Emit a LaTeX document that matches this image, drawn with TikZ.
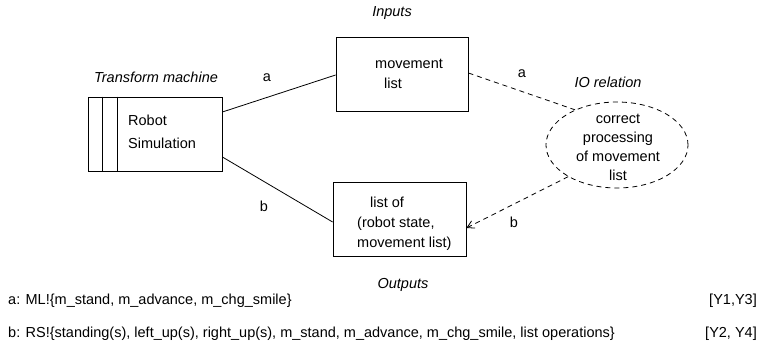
\documentclass[tikz,border=0pt]{standalone}
\usepackage{fontspec}
\setmainfont{Liberation Sans}
\usetikzlibrary{arrows.meta,shapes.geometric}
\begin{document}
\begin{tikzpicture}[x=1pt,y=-1pt,
  every node/.style={font=\fontsize{14.5}{20}\selectfont, inner sep=0pt},
  boxnode/.style={draw, line width=0.8pt, rectangle},
  conn/.style={line width=0.8pt},
  dconn/.style={line width=0.8pt, dash pattern=on 5pt off 4pt},
  ttl/.style={font=\fontsize{14.5}{20}\selectfont\itshape}]
\useasboundingbox (0,0) rectangle (769,347);
% transform machine
\node[boxnode, minimum width=134pt, minimum height=74pt] (tm) at (155,134) {};
\draw[conn] ([xshift=15pt]tm.north west) -- ([xshift=15pt]tm.south west);
\draw[conn] ([xshift=30pt]tm.north west) -- ([xshift=30pt]tm.south west);
\node[anchor=west, align=left, font=\fontsize{14.5}{23}\selectfont] (tmtxt) at (128,132) {Robot\\Simulation};
\node[ttl] (tmttl) at (156,77) {Transform machine};
% inputs
\node[boxnode, minimum width=132pt, minimum height=74pt] (in) at (402,74) {};
\node[anchor=west, align=left] (intxt) at (375,74) {movement\\\hspace*{9pt}list};
\node[ttl] (inttl) at (392,13) {Inputs};
% outputs
\node[boxnode, minimum width=133pt, minimum height=74pt] (out) at (399.5,219) {};
\node[anchor=west, align=left] (outtxt) at (357,224) {\hspace*{13pt}list of\\(robot state,\\movement list)};
\node[ttl] (outttl) at (403,285) {Outputs};
% IO relation
\node[ellipse, draw, dash pattern=on 5pt off 4pt, line width=0.8pt, minimum width=142pt, minimum height=86pt] (io) at (617,145) {};
\node[align=center, font=\fontsize{14.5}{19}\selectfont] (iotxt) at (618,147) {correct\\processing\\of movement\\list};
\node[ttl] (iottl) at (608,82) {IO relation};
% connectors
\draw[conn] ([yshift=22pt]tm.east) -- ([yshift=-1pt]in.west);
\draw[conn] ([yshift=-23pt]tm.east) -- ([yshift=-3pt]out.west);
\draw[dconn] ([yshift=1pt]in.east) -- (io.140);
\draw[dconn, -{Straight Barb[length=7pt,width=8pt]}] (io.213) -- ([yshift=-9pt]out.east);
\node (la1) at (267,78) {a};
\node (lb1) at (264,206) {b};
\node (la2) at (522,74) {a};
\node (lb2) at (514,222) {b};
% bottom text
\node[anchor=west] (txa) at (8,301) {a: ML!\{m\_stand, m\_advance, m\_chg\_smile\}};
\node[anchor=east] (ya) at (757,301) {[Y1,Y3]};
\node[anchor=west] (txb) at (8,334) {b: RS!\{standing(s), left\_up(s), right\_up(s), m\_stand, m\_advance, m\_chg\_smile, list operations\}};
\node[anchor=east] (yb) at (757,334) {[Y2, Y4]};
\end{tikzpicture}
\end{document}
